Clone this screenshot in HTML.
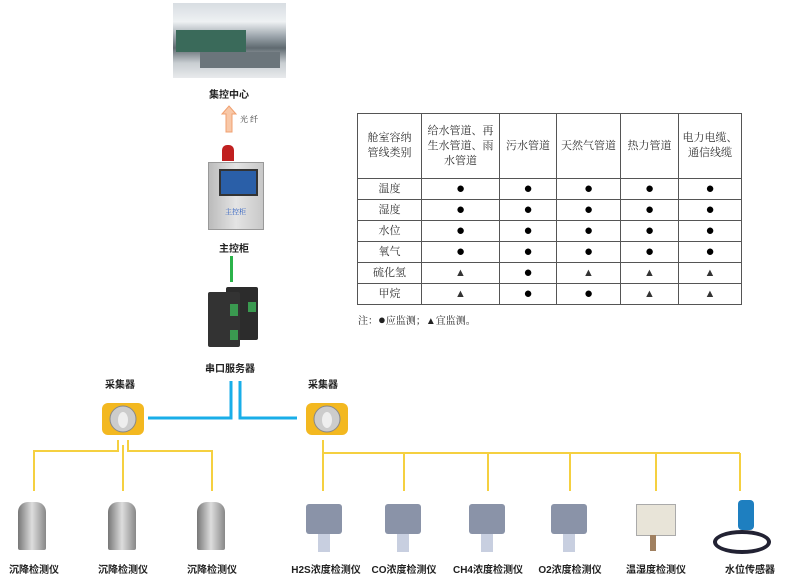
<!DOCTYPE html>
<html><head><meta charset="utf-8"><style>
body{margin:0;width:800px;height:579px;background:#fff;position:relative;overflow:hidden;font-family:"Liberation Serif","Noto Serif CJK SC",serif}
.a{position:absolute}
.lbl{position:absolute;font-size:10px;font-weight:bold;color:#222;transform:translateX(-50%);white-space:nowrap;font-family:"Liberation Sans","Noto Sans CJK SC",sans-serif}
table{position:absolute;left:357px;top:113px;border-collapse:collapse;font-size:11px;color:#333;font-family:"Liberation Serif","Noto Serif CJK SC",serif}
td{border:1px solid #555;text-align:center;height:20px;padding:0;line-height:15px}
td.s{font-size:15px;color:#000}
</style></head><body>
<div class="a" style="left:173px;top:3px;width:113px;height:75px;background:linear-gradient(#d8dde2 0%,#eef1f3 25%,#9aa3aa 45%,#5f6a70 60%,#c9ced2 80%,#e8eaec 100%)"></div>
<div class="a" style="left:176px;top:30px;width:70px;height:22px;background:#3a6a5a"></div>
<div class="a" style="left:200px;top:52px;width:80px;height:16px;background:#6b757b"></div>
<div class="lbl" style="left:229px;top:86px">集控中心</div>
<svg class="a" style="left:220px;top:105px" width="20" height="30"><path d="M9 1 L16 9 L12 9 L12 27 L6 27 L6 9 L2 9 Z" fill="#f8c8a8" stroke="#f0a070"/></svg>
<div class="a" style="left:240px;top:114px;font-size:8px;color:#333">光 纤</div>
<div class="a" style="left:222px;top:145px;width:12px;height:16px;background:#c02020;border-radius:5px 5px 0 0"></div>
<div class="a" style="left:208px;top:162px;width:54px;height:66px;background:linear-gradient(90deg,#bbb,#e4e4e4,#c8c8c8);border:1px solid #999"></div>
<div class="a" style="left:219px;top:169px;width:35px;height:23px;background:#2a5fa8;border:2px solid #333"></div>
<div class="a" style="left:225px;top:207px;font-size:7px;color:#2d5fc0">主控柜</div>
<div class="lbl" style="left:234px;top:240px">主控柜</div>
<div class="a" style="left:230px;top:256px;width:3px;height:26px;background:#2bb34a"></div>
<div class="a" style="left:226px;top:287px;width:32px;height:53px;background:#2c2c2c;border-radius:2px"></div>
<div class="a" style="left:208px;top:292px;width:32px;height:55px;background:#333;border-radius:2px"></div>
<div class="a" style="left:230px;top:304px;width:8px;height:12px;background:#3a9a50"></div>
<div class="a" style="left:230px;top:330px;width:8px;height:10px;background:#3a9a50"></div>
<div class="a" style="left:248px;top:302px;width:8px;height:10px;background:#3a9a50"></div>
<div class="lbl" style="left:230px;top:360px">串口服务器</div>
<table>
<tr style="height:65px"><td style="width:63px">舱室容纳<br>管线类别</td><td style="width:77px">给水管道、再<br>生水管道、雨<br>水管道</td><td style="width:56px">污水管道</td><td style="width:63px">天然气管道</td><td style="width:57px">热力管道</td><td style="width:62px">电力电缆、<br>通信线缆</td></tr>
<tr><td>温度</td><td class="s">●</td><td class="s">●</td><td class="s">●</td><td class="s">●</td><td class="s">●</td></tr>
<tr><td>湿度</td><td class="s">●</td><td class="s">●</td><td class="s">●</td><td class="s">●</td><td class="s">●</td></tr>
<tr><td>水位</td><td class="s">●</td><td class="s">●</td><td class="s">●</td><td class="s">●</td><td class="s">●</td></tr>
<tr><td>氧气</td><td class="s">●</td><td class="s">●</td><td class="s">●</td><td class="s">●</td><td class="s">●</td></tr>
<tr><td>硫化氢</td><td>▲</td><td class="s">●</td><td>▲</td><td>▲</td><td>▲</td></tr>
<tr><td>甲烷</td><td>▲</td><td class="s">●</td><td class="s">●</td><td>▲</td><td>▲</td></tr>
</table>
<div class="a" style="left:358px;top:312px;font-size:10px;color:#222">注：<span style="font-size:13px">●</span>应监测；▲宜监测。</div>
<svg class="a" style="left:0;top:0" width="800" height="579">
<g stroke="#19aee8" stroke-width="3" fill="none">
<polyline points="148,418 231,418 231,381"/>
<polyline points="240,381 240,418 297,418"/>
</g>
<g stroke="#f5d040" stroke-width="2" fill="none">
<polyline points="118,440 118,451 34,451 34,491"/>
<polyline points="128,440 128,451 212,451 212,491"/>
<line x1="123" y1="445" x2="123" y2="491"/>
<polyline points="323,440 323,491"/>
<line x1="323" y1="453" x2="740" y2="453"/>
<line x1="404" y1="453" x2="404" y2="491"/>
<line x1="488" y1="453" x2="488" y2="491"/>
<line x1="570" y1="453" x2="570" y2="491"/>
<line x1="656" y1="453" x2="656" y2="491"/>
<line x1="740" y1="453" x2="740" y2="491"/>
</g>
<g>
<rect x="102" y="403" width="42" height="32" rx="6" fill="#f3b820"/>
<circle cx="123" cy="419" r="13" fill="#ccc" stroke="#888"/><ellipse cx="123" cy="420" rx="5" ry="8" fill="#eee"/>
<rect x="306" y="403" width="42" height="32" rx="6" fill="#f3b820"/>
<circle cx="327" cy="419" r="13" fill="#ccc" stroke="#888"/><ellipse cx="327" cy="420" rx="5" ry="8" fill="#eee"/>
</g>
</svg>
<div class="lbl" style="left:120px;top:376px">采集器</div>
<div class="lbl" style="left:323px;top:376px">采集器</div>
<div class="a" style="left:18px;top:502px;width:28px;height:48px;background:linear-gradient(90deg,#777,#ddd,#888);border-radius:10px 10px 2px 2px"></div>
<div class="a" style="left:108px;top:502px;width:28px;height:48px;background:linear-gradient(90deg,#777,#ddd,#888);border-radius:10px 10px 2px 2px"></div>
<div class="a" style="left:197px;top:502px;width:28px;height:48px;background:linear-gradient(90deg,#777,#ddd,#888);border-radius:10px 10px 2px 2px"></div>
<div class="a" style="left:306px;top:504px;width:36px;height:30px;background:#8a93a8;border-radius:3px"></div><div class="a" style="left:318px;top:534px;width:12px;height:18px;background:#c8cfe0"></div>
<div class="a" style="left:385px;top:504px;width:36px;height:30px;background:#8a93a8;border-radius:3px"></div><div class="a" style="left:397px;top:534px;width:12px;height:18px;background:#c8cfe0"></div>
<div class="a" style="left:469px;top:504px;width:36px;height:30px;background:#8a93a8;border-radius:3px"></div><div class="a" style="left:481px;top:534px;width:12px;height:18px;background:#c8cfe0"></div>
<div class="a" style="left:551px;top:504px;width:36px;height:30px;background:#8a93a8;border-radius:3px"></div><div class="a" style="left:563px;top:534px;width:12px;height:18px;background:#c8cfe0"></div>
<div class="a" style="left:636px;top:504px;width:38px;height:30px;background:#e8e4d8;border:1px solid #aaa"></div><div class="a" style="left:650px;top:535px;width:6px;height:16px;background:#a08060"></div>
<div class="a" style="left:713px;top:530px;width:50px;height:16px;border:4px solid #223;border-radius:50%"></div>
<div class="a" style="left:738px;top:500px;width:16px;height:30px;background:#1e7fc0;border-radius:4px"></div>
<div class="lbl" style="left:34px;top:561px">沉降检测仪</div>
<div class="lbl" style="left:123px;top:561px">沉降检测仪</div>
<div class="lbl" style="left:212px;top:561px">沉降检测仪</div>
<div class="lbl" style="left:326px;top:561px">H2S浓度检测仪</div>
<div class="lbl" style="left:404px;top:561px">CO浓度检测仪</div>
<div class="lbl" style="left:488px;top:561px">CH4浓度检测仪</div>
<div class="lbl" style="left:570px;top:561px">O2浓度检测仪</div>
<div class="lbl" style="left:656px;top:561px">温湿度检测仪</div>
<div class="lbl" style="left:750px;top:561px">水位传感器</div>
</body></html>
